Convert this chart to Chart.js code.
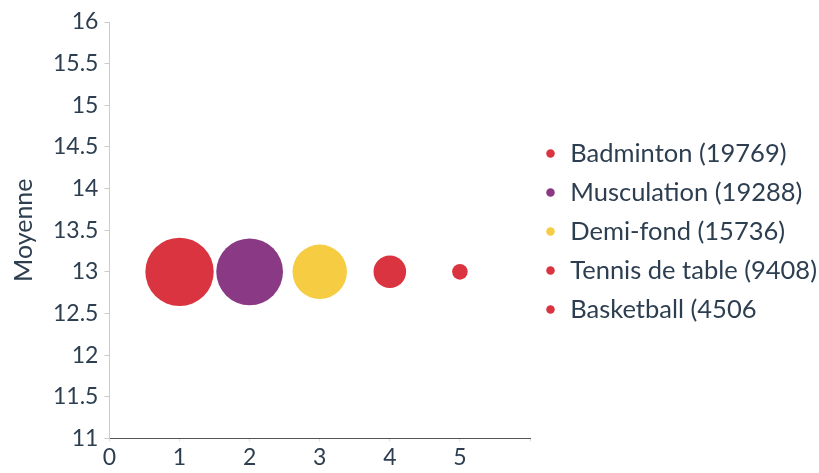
<!DOCTYPE html>
<html>
<head>
<meta charset="utf-8">
<script src="https://cdn.jsdelivr.net/npm/chart.js@4/dist/chart.umd.min.js"></script>
<style>
  body { margin: 0; background: #fff; }
  #wrap { width: 819px; height: 473px; }
</style>
</head>
<body>
<div id="wrap"><canvas id="graph"></canvas></div>
<script>
var sports = ["Badminton (19769)", "Musculation (19288)", "Demi-fond (15736)", "Tennis de table (9408)", "Basketball (4506"];
var counts = [19769, 19288, 15736, 9408, 4506];
var xPos = [1, 2, 3, 4, 5];
var moyennes = [13, 13, 13, 13, 13];
var colors = ["#d9343f", "#8a3a84", "#f5cc42", "#d9343f", "#d9343f"];
var yTicks = [11, 11.5, 12, 12.5, 13, 13.5, 14, 14.5, 15, 15.5, 16];

Chart.defaults.font.family = "Lato";
Chart.defaults.color = "#2c3e50";

// the layout gives a right legend only a quarter of the width, that cuts the labels
var legendWidthFix = {
	id: 'legendWidthFix',
	beforeLayout: function(chart) {
		var lg = chart.legend;
		if (lg && !lg._wide) {
			var orig = lg.update;
			lg.update = function(maxWidth, maxHeight, margins) {
				orig.call(this, 289, maxHeight, margins);
				this.width = 289;
			};
			lg._wide = true;
		}
	},
	afterLayout: function(chart) {
		// legend sits a bit higher than the full height centre
		var lg = chart.legend;
		if (lg) {
			lg.top -= 16;
			lg.bottom -= 16;
		}
	}
};

var datasets = sports.map(function(name, i) {
	return {
		label: name,
		data: [{x: xPos[i], y: moyennes[i], r: counts[i] / 578}],
		backgroundColor: colors[i],
		borderColor: colors[i],
		borderWidth: 0,
		hoverRadius: 0
	};
});

var ctx = document.getElementById("graph").getContext("2d");
var myChart = new Chart(ctx, {
	type: 'bubble',
	data: { datasets: datasets },
	plugins: [legendWidthFix],
	options: {
		responsive: true,
		maintainAspectRatio: false,
		animation: false,
		layout: { autoPadding: false, padding: { left: 9, top: 22, right: 0, bottom: 0 } },
		plugins: {
			tooltip: { enabled: false },
			legend: {
				position: 'right',
				labels: {
					usePointStyle: true,
					pointStyle: 'circle',
					boxWidth: 14,
					boxHeight: 6,
					padding: 13.5,
					font: { size: 25.5 },
					color: "#2c3e50"
				}
			}
		},
		scales: {
			x: {
				type: 'linear',
				min: 0,
				max: 6,
				border: { color: "#555", width: 1 },
				grid: { drawOnChartArea: false, tickLength: 3, color: "#ddd" },
				ticks: {
					stepSize: 1,
					padding: 2,
					font: { size: 23 },
					color: "#2c3e50",
					callback: function(v) { return v < 6 ? v : ""; }
				}
			},
			y: {
				type: 'linear',
				min: 11,
				max: 16,
				border: { color: "#ccc", width: 1 },
				grid: { drawOnChartArea: false, tickLength: 5, color: "#ccc" },
				afterBuildTicks: function(axis) {
					axis.ticks = yTicks.map(function(v) { return { value: v }; });
				},
				ticks: {
					padding: 6,
					font: { size: 23 },
					color: "#2c3e50",
					callback: function(v) { return String(v); }
				},
				title: {
					display: true,
					text: "Moyenne",
					font: { size: 25 },
					color: "#2c3e50",
					padding: { top: 0, bottom: 8 }
				}
			}
		}
	}
});
</script>
</body>
</html>
